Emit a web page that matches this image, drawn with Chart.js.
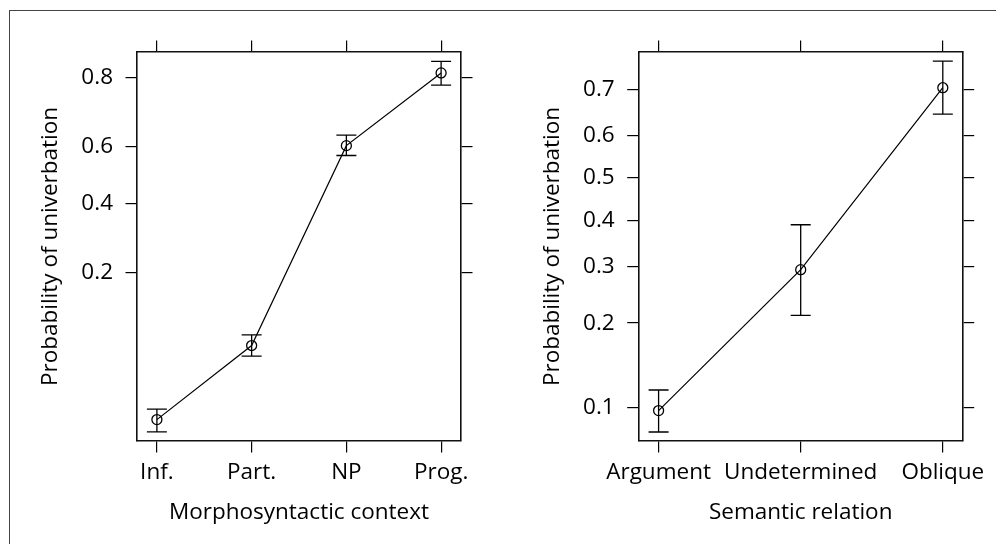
<!DOCTYPE html>
<html><head><meta charset="utf-8">
<script src="https://cdn.jsdelivr.net/npm/chart.js@4"></script>
<style>
html,body{margin:0;padding:0;background:#fff}
body{width:996px;height:544px;overflow:hidden;position:relative}
#frame{position:absolute;left:9px;top:10px;width:1100px;height:700px;border-top:1.5px solid #444;border-left:1.5px solid #444;box-sizing:border-box}
.c{position:absolute;top:0;width:498px;height:544px}
</style></head><body>
<div id="frame"></div>
<div class="c" style="left:0"><canvas id="c1" width="498" height="544"></canvas></div>
<div class="c" style="left:498px"><canvas id="c2" width="498" height="544"></canvas></div>
<script>
// ---- data (probabilities) ----
const contextCategories = ["Inf.", "Part.", "NP", "Prog."];
const contextFit   = [0.0300, 0.0815, 0.604, 0.811];
const contextLower = [0.0253, 0.0709, 0.570, 0.783];
const contextUpper = [0.0347, 0.0935, 0.639, 0.835];
const contextTicks = [0.2, 0.4, 0.6, 0.8];

const relationCategories = ["Argument", "Undetermined", "Oblique"];
const relationFit   = [0.0978, 0.294, 0.703];
const relationLower = [0.0812, 0.212, 0.648];
const relationUpper = [0.1166, 0.390, 0.753];
const relationTicks = [0.1, 0.2, 0.3, 0.4, 0.5, 0.6, 0.7];

const yTitle = "Probability of univerbation";
const contextTitle = "Morphosyntactic context";
const relationTitle = "Semantic relation";

// ---- logit scale ----
const logit = p => Math.log(p / (1 - p));
class LogitScale extends Chart.Scale {
  determineDataLimits() { this.min = this.options.min; this.max = this.options.max; }
  buildTicks() { return (this.options.tickValues || []).map(v => ({ value: v })); }
  getLabelForValue(v) { return String(v); }
  getPixelForValue(v) {
    const a = logit(this.min), b = logit(this.max);
    return this.getPixelForDecimal((logit(v) - a) / (b - a));
  }
  getValueForPixel(px) {
    const a = logit(this.min), b = logit(this.max);
    const L = a + this.getDecimalForPixel(px) * (b - a);
    return 1 / (1 + Math.exp(-L));
  }
}
LogitScale.id = 'logit';
LogitScale.defaults = {};
Chart.register(LogitScale);

Chart.defaults.color = '#000';
Chart.defaults.font.family = '"Open Sans", sans-serif';
Chart.defaults.font.size = 22.5;

const errorBars = {
  id: 'errorBars',
  afterDatasetsDraw(chart, args, opts) {
    const { ctx } = chart;
    const x = chart.scales.x, y = chart.scales.y;
    ctx.save();
    ctx.strokeStyle = '#000';
    ctx.lineWidth = 1.3;
    opts.lower.forEach((lo, i) => {
      const px = x.getPixelForValue(i + 1);
      const y1 = y.getPixelForValue(lo), y2 = y.getPixelForValue(opts.upper[i]);
      ctx.beginPath();
      ctx.moveTo(px, y1); ctx.lineTo(px, y2);
      ctx.moveTo(px - opts.cap, y1); ctx.lineTo(px + opts.cap, y1);
      ctx.moveTo(px - opts.cap, y2); ctx.lineTo(px + opts.cap, y2);
      ctx.stroke();
    });
    ctx.restore();
  }
};

function makeChart(id, cats, fit, lower, upper, ticks, yMin, yMax, xPad, xTitle, geom) {
  const TL = 11.5;
  const grid = { drawOnChartArea: false, drawTicks: true, tickLength: TL, color: '#000', lineWidth: 1.2 };
  const border = { display: true, color: '#111', width: 1.6 };
  const catTicks = s => { s.ticks = cats.map((c, i) => ({ value: i + 1 })); };
  const noPad = s => { s.paddingLeft = 0; s.paddingRight = 0; s.paddingTop = 0; s.paddingBottom = 0; };
  return new Chart(document.getElementById(id), {
    type: 'line',
    data: {
      datasets: [{
        data: fit.map((p, i) => ({ x: i + 1, y: p })),
        borderColor: '#000', borderWidth: 1.2, tension: 0,
        pointRadius: 5, pointBorderWidth: 1.3, pointBackgroundColor: 'rgba(0,0,0,0)',
        pointBorderColor: '#000', pointHoverRadius: 5
      }]
    },
    options: {
      responsive: false, animation: false, devicePixelRatio: 1,
      events: [],
      layout: { padding: { top: geom.top - TL, right: geom.right, left: 0, bottom: 0 } },
      plugins: { legend: { display: false }, tooltip: { enabled: false },
        errorBars: { lower: lower, upper: upper, cap: 10 } },
      scales: {
        x: {
          type: 'linear', position: 'bottom', min: 1 - xPad, max: cats.length + xPad,
          afterBuildTicks: catTicks,
          ticks: { autoSkip: false, maxRotation: 0, padding: 6.5, callback: v => cats[Math.round(v) - 1] },
          grid: grid, border: border,
          title: { display: true, text: xTitle, padding: { top: 0, bottom: 17.5 } },
          afterFit: s => { s.height = geom.xh; noPad(s); }
        },
        x2: {
          type: 'linear', position: 'top', min: 1 - xPad, max: cats.length + xPad,
          afterBuildTicks: catTicks,
          ticks: { display: false }, grid: grid, border: border,
          afterFit: s => { s.height = TL; noPad(s); }
        },
        y: {
          type: 'logit', position: 'left', min: yMin, max: yMax, tickValues: ticks,
          ticks: { padding: 12.5, callback: v => v.toFixed(1) },
          grid: grid, border: border,
          title: { display: true, text: yTitle, padding: { top: geom.ytp, bottom: 0 } },
          afterFit: s => { s.width = geom.left; noPad(s); }
        },
        y2: {
          type: 'logit', position: 'right', min: yMin, max: yMax, tickValues: ticks,
          ticks: { display: false }, grid: grid, border: border,
          afterFit: s => { s.width = TL; noPad(s); }
        }
      }
    },
    plugins: [errorBars]
  });
}

makeChart('c1', contextCategories, contextFit, contextLower, contextUpper, contextTicks,
  0.0223, 0.8525, 0.21, contextTitle,
  { top: 52, right: 25.5, left: 137, xh: 103, ytp: 36.8 });
makeChart('c2', relationCategories, relationFit, relationLower, relationUpper, relationTicks,
  0.0750, 0.7690, 0.14, relationTitle,
  { top: 52, right: 21.8, left: 140.7, xh: 103, ytp: 41.5 });
</script>
</body></html>
